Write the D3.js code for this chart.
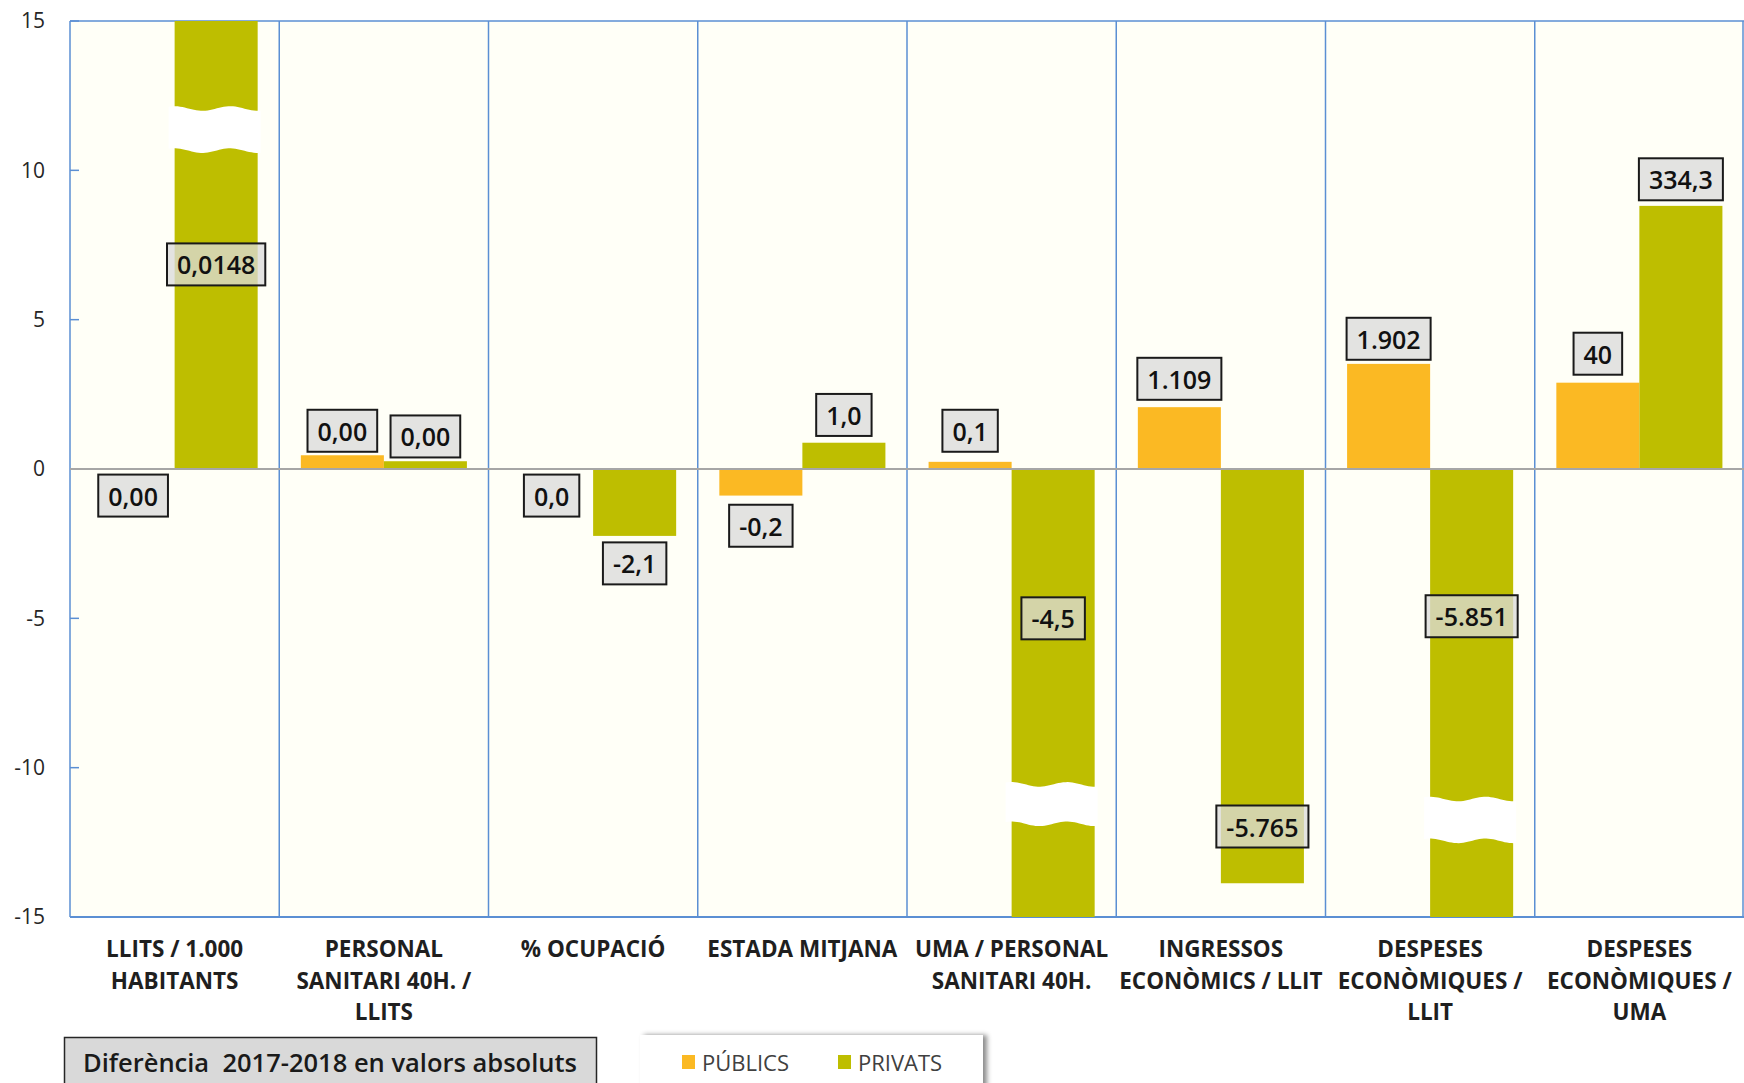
<!DOCTYPE html>
<html>
<head>
<meta charset="utf-8">
<script src="https://cdn.jsdelivr.net/npm/d3@7"></script>
<style>
  body { margin: 0; background: #ffffff; }
  svg { display: block; }
</style>
</head>
<body>
<div class="chart"></div>
<script>
// categories (multi-line axis labels)
var categories = [
  ["LLITS / 1.000", "HABITANTS"],
  ["PERSONAL", "SANITARI 40H. /", "LLITS"],
  ["% OCUPACIÓ"],
  ["ESTADA MITJANA"],
  ["UMA / PERSONAL", "SANITARI 40H."],
  ["INGRESSOS", "ECONÒMICS / LLIT"],
  ["DESPESES", "ECONÒMIQUES /", "LLIT"],
  ["DESPESES", "ECONÒMIQUES /", "UMA"]
];
var series = ["PÚBLICS", "PRIVATS"];

// bar heights as drawn on the axis (the chart is not to scale)
var publicsBar = [0, 0.46, 0, -0.89, 0.24, 2.07, 3.52, 2.89];
var privatsBar = [15, 0.26, -2.24, 0.88, -15, -13.87, -15, 8.81];

// data label texts
var publicsLabel = ["0,00", "0,00", "0,0", "-0,2", "0,1", "1.109", "1.902", "40"];
var privatsLabel = ["0,0148", "0,00", "-2,1", "1,0", "-4,5", "-5.765", "-5.851", "334,3"];

// where each label sits, in axis units
var publicsLabelAt = [-0.89, 1.28, -0.89, -1.9, 1.28, 3.02, 4.36, 3.86];
var privatsLabelAt = [6.85, 1.09, -3.16, 1.81, -5.0, -11.97, -4.93, 9.7];

// axis break marks on the long bars [category, from, to]
var breaks = [[0, 12.07, 10.66], [4, -10.56, -11.88], [6, -11.05, -12.45]];

var yTicks = [-15, -10, -5, 0, 5, 10, 15];
var title = "Diferència  2017-2018 en valors absoluts";

var width = 1744, height = 1083;
var plotLeft = 70, plotRight = 1744, plotTop = 21, plotBottom = 917;
var colors = ["#FBB923", "#BEBE00"];
var font = "'Open Sans', 'Liberation Sans', sans-serif";

var svg = d3.select(".chart")
  .append("svg")
  .attr("width", width)
  .attr("height", height);

var x0 = d3.scaleBand()
  .domain(d3.range(categories.length))
  .range([plotLeft, plotRight])
  .padding(0);

var x1 = d3.scaleBand()
  .domain([0, 1])
  .range([0, x0.bandwidth()])
  .paddingInner(0)
  .paddingOuter(0.26);

var y = d3.scaleLinear()
  .domain([-15, 15])
  .range([plotBottom, plotTop]);

svg.append("defs").append("clipPath")
  .attr("id", "plotClip")
  .append("rect")
  .attr("x", plotLeft)
  .attr("y", plotTop)
  .attr("width", plotRight - plotLeft)
  .attr("height", plotBottom - plotTop);

// plot background
svg.append("rect")
  .attr("x", plotLeft)
  .attr("y", plotTop)
  .attr("width", plotRight - plotLeft)
  .attr("height", plotBottom - plotTop)
  .attr("fill", "#FFFFF7");

// category separators
svg.append("g")
  .selectAll("line")
  .data(d3.range(categories.length + 1))
  .enter()
  .append("line")
  .attr("x1", function(i) { return i < categories.length ? x0(i) : plotRight - 1; })
  .attr("x2", function(i) { return i < categories.length ? x0(i) : plotRight - 1; })
  .attr("y1", plotTop)
  .attr("y2", plotBottom)
  .attr("stroke", "#5B8FD3")
  .attr("stroke-width", 1.5);

// top / bottom frame
svg.append("line")
  .attr("x1", plotLeft).attr("x2", plotRight)
  .attr("y1", plotTop).attr("y2", plotTop)
  .attr("stroke", "#5B8FD3").attr("stroke-width", 1.5);
svg.append("line")
  .attr("x1", plotLeft).attr("x2", plotRight)
  .attr("y1", plotBottom).attr("y2", plotBottom)
  .attr("stroke", "#5B8FD3").attr("stroke-width", 2);

// y axis
var yAxis = d3.axisLeft(y)
  .tickValues(yTicks)
  .tickSize(0)
  .tickPadding(25)
  .tickFormat(function(d) { return String(d); });

var yAxisG = svg.append("g")
  .attr("transform", "translate(" + plotLeft + ",0)")
  .call(yAxis);
yAxisG.select(".domain").remove();
yAxisG.selectAll("text")
  .attr("font-family", font)
  .attr("font-size", 21)
  .attr("fill", "#262626");

svg.append("g")
  .selectAll("line")
  .data(yTicks)
  .enter()
  .append("line")
  .attr("x1", plotLeft)
  .attr("x2", plotLeft + 9)
  .attr("y1", function(d) { return y(d); })
  .attr("y2", function(d) { return y(d); })
  .attr("stroke", "#5B8FD3")
  .attr("stroke-width", 1.5);

// bars
var bars = svg.append("g").attr("clip-path", "url(#plotClip)");
[publicsBar, privatsBar].forEach(function(vals, s) {
  bars.selectAll(".bar" + s)
    .data(vals)
    .enter()
    .append("rect")
    .attr("class", "bar" + s)
    .attr("x", function(d, i) { return x0(i) + x1(s); })
    .attr("y", function(d) { return y(Math.max(0, d)); })
    .attr("width", x1.bandwidth())
    .attr("height", function(d) { return Math.abs(y(d) - y(0)); })
    .attr("fill", colors[s]);
});

// break marks
function wave(x, w, yy, dir) {
  var pts = [];
  for (var k = 0; k <= 40; k++) {
    var px = x + w * k / 40;
    pts.push([px, yy - 2.3 * Math.cos(2 * Math.PI * (px - x - 6) / (x1.bandwidth() / 1.5))]);
  }
  return dir ? pts : pts.reverse();
}
svg.append("g")
  .selectAll("path")
  .data(breaks)
  .enter()
  .append("path")
  .attr("d", function(b) {
    var bx = x0(b[0]) + x1(1) - 6;
    var bw = x1.bandwidth() + 9;
    var pts = wave(bx, bw, y(b[1]), true).concat(wave(bx, bw, y(b[2]), false));
    return d3.line()(pts) + "Z";
  })
  .attr("fill", "#ffffff");

// zero line
svg.append("line")
  .attr("x1", plotLeft).attr("x2", plotRight)
  .attr("y1", y(0)).attr("y2", y(0))
  .attr("stroke", "#A6A6A6").attr("stroke-width", 2);

// data labels
var labelData = [];
categories.forEach(function(c, i) {
  labelData.push({ s: 0, i: i, text: publicsLabel[i], at: publicsLabelAt[i] });
  labelData.push({ s: 1, i: i, text: privatsLabel[i], at: privatsLabelAt[i] });
});

var labels = svg.append("g")
  .selectAll("g")
  .data(labelData)
  .enter()
  .append("g")
  .attr("transform", function(d) {
    return "translate(" + (x0(d.i) + x1(d.s) + x1.bandwidth() / 2) + "," + y(d.at) + ")";
  });

labels.append("rect").attr("class", "box");
labels.append("text")
  .attr("text-anchor", "middle")
  .attr("dominant-baseline", "central")
  .attr("font-family", font)
  .attr("font-weight", 600)
  .attr("font-size", 25)
  .attr("fill", "#111")
  .text(function(d) { return d.text; });

labels.each(function() {
  var g = d3.select(this);
  var w = g.select("text").node().getComputedTextLength() + 20;
  g.select("rect")
    .attr("x", -w / 2)
    .attr("y", -21)
    .attr("width", w)
    .attr("height", 42)
    .attr("fill", "rgba(218,218,218,0.77)")
    .attr("stroke", "#1a1a1a")
    .attr("stroke-width", 2);
});

// category labels
svg.append("g")
  .selectAll("text")
  .data(categories)
  .enter()
  .append("text")
  .attr("text-anchor", "middle")
  .attr("font-family", font)
  .attr("font-weight", 700)
  .attr("font-size", 22.5)
  .attr("fill", "#1f1f1f")
  .each(function(lines, i) {
    var t = d3.select(this);
    lines.forEach(function(l, k) {
      t.append("tspan")
        .attr("x", x0(i) + x0.bandwidth() / 2)
        .attr("y", 957 + k * 31.5)
        .text(l);
    });
  });

// title box
svg.append("rect")
  .attr("x", 64.5).attr("y", 1037.5)
  .attr("width", 532).attr("height", 60)
  .attr("fill", "#D9D9D9")
  .attr("stroke", "#262626").attr("stroke-width", 1.5);
svg.append("text")
  .attr("x", 330).attr("y", 1062)
  .attr("text-anchor", "middle")
  .attr("dominant-baseline", "central")
  .attr("font-family", font)
  .attr("font-weight", 600)
  .attr("font-size", 25.5)
  .attr("fill", "#1a1a1a")
  .style("white-space", "pre")
  .text(title);

// legend
var shadow = svg.select("defs").append("filter")
  .attr("id", "shadow")
  .attr("x", "-10%").attr("y", "-30%")
  .attr("width", "130%").attr("height", "160%");
shadow.append("feDropShadow")
  .attr("dx", 4).attr("dy", 0)
  .attr("stdDeviation", 2.5)
  .attr("flood-color", "#000")
  .attr("flood-opacity", 0.45);

svg.append("rect")
  .attr("x", 640).attr("y", 1035)
  .attr("width", 343).attr("height", 70)
  .attr("fill", "#ffffff")
  .attr("filter", "url(#shadow)");

var legendX = [682, 838];
var legend = svg.append("g")
  .selectAll("g")
  .data(series)
  .enter()
  .append("g")
  .attr("transform", function(d, i) { return "translate(" + legendX[i] + ",1062)"; });
legend.append("rect")
  .attr("x", 0).attr("y", -7)
  .attr("width", 13).attr("height", 14)
  .attr("fill", function(d, i) { return colors[i]; });
legend.append("text")
  .attr("x", 20)
  .attr("dominant-baseline", "central")
  .attr("font-family", font)
  .attr("font-size", 22)
  .attr("fill", "#404040")
  .text(function(d) { return d; });
</script>
</body>
</html>
